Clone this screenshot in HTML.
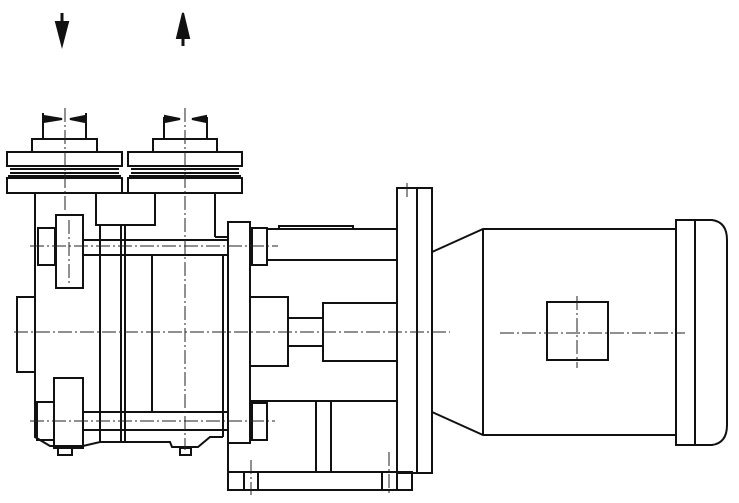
<!DOCTYPE html>
<html><head><meta charset="utf-8"><style>html,body{margin:0;padding:0;background:#fff}svg{display:block}</style></head>
<body>
<svg width="739" height="503" viewBox="0 0 739 503" xmlns="http://www.w3.org/2000/svg">
<g fill="none" stroke="#111" stroke-width="2">
<line x1="62" y1="13" x2="62" y2="24" stroke-width="3"/>
<polygon points="56,22 68,22 62,45" fill="#111"/>
<polygon points="177,38 189,38 183,13" fill="#111"/>
<line x1="183" y1="37" x2="183" y2="46" stroke-width="3"/>
<line x1="43" y1="113" x2="43" y2="139"/><line x1="86" y1="113" x2="86" y2="139"/>
<polygon points="44,116 62,119 44,122" fill="#111"/><polygon points="85,116 70,119 85,122" fill="#111"/>
<line x1="164" y1="117" x2="164" y2="139"/><line x1="207" y1="117" x2="207" y2="139"/>
<polygon points="165,116 180,119 165,122" fill="#111"/><polygon points="206,116 192,119 206,122" fill="#111"/>
<rect x="32" y="139" width="65" height="13"/>
<rect x="7" y="152" width="115" height="14"/>
<line x1="10" y1="169" x2="119" y2="169"/><line x1="10" y1="173" x2="119" y2="173"/><line x1="8" y1="176" x2="121" y2="176"/>
<rect x="7" y="178" width="115" height="15"/>
<rect x="153" y="139" width="64" height="13"/>
<rect x="128" y="152" width="114" height="14"/>
<line x1="131" y1="169" x2="239" y2="169"/><line x1="131" y1="173" x2="239" y2="173"/><line x1="129" y1="176" x2="241" y2="176"/>
<rect x="128" y="178" width="114" height="15"/>
<polyline points="35,193 35,437 50,446 83,446 100,442 170,442 172,447 198,447 210,437 223,437"/>
<rect x="96" y="193" width="59" height="32"/>
<line x1="215" y1="193" x2="215" y2="237"/>
<line x1="215" y1="237" x2="228" y2="237"/>
<rect x="17" y="297" width="18" height="75"/>
<rect x="56" y="215" width="27" height="73"/>
<rect x="38" y="228" width="17" height="37"/>
<line x1="83" y1="240" x2="228" y2="240"/><line x1="83" y1="255" x2="228" y2="255"/>
<rect x="54" y="378" width="29" height="70"/>
<rect x="37" y="402" width="17" height="38"/>
<line x1="83" y1="412" x2="228" y2="412"/><line x1="83" y1="430" x2="228" y2="430"/>
<line x1="100" y1="225" x2="100" y2="442"/><line x1="121" y1="225" x2="121" y2="442"/>
<line x1="125" y1="225" x2="125" y2="442"/><line x1="152" y1="255" x2="152" y2="412"/>
<line x1="223" y1="255" x2="223" y2="437"/>
<rect x="58" y="448" width="14" height="7"/><rect x="180" y="448" width="11" height="7"/>
<rect x="228" y="222" width="22" height="221"/>
<rect x="252" y="228" width="15" height="37"/>
<rect x="252" y="403" width="15" height="37"/>
<rect x="267" y="229" width="130" height="31"/>
<rect x="279" y="226" width="74" height="3"/>
<rect x="250" y="297" width="38" height="69"/>
<rect x="288" y="318" width="35" height="28"/>
<rect x="323" y="303" width="74" height="58"/>
<line x1="250" y1="401" x2="397" y2="401"/>
<polyline points="228,443 228,472 316,472 316,401"/>
<polyline points="331,401 331,472 397,472"/>
<rect x="228" y="472" width="184" height="18"/>
<line x1="244" y1="472" x2="244" y2="490"/><line x1="258" y1="472" x2="258" y2="490"/>
<line x1="382" y1="472" x2="382" y2="490"/><line x1="397" y1="472" x2="397" y2="490"/>
<rect x="397" y="188" width="35" height="285"/>
<line x1="417" y1="188" x2="417" y2="473"/>
<polyline points="432,252 483,229 676,229"/>
<polyline points="432,412 483,435 676,435"/>
<line x1="483" y1="229" x2="483" y2="435"/>
<rect x="676" y="220" width="19" height="225"/>
<path d="M695,220 L712,220 Q727,222 727,240 L727,425 Q727,443 712,445 L695,445"/>
<rect x="547" y="302" width="61" height="58"/>
</g>
<g stroke="#222" stroke-width="1" stroke-dasharray="14,3,2,3" fill="none">
<line x1="65" y1="108" x2="65" y2="210"/>
<line x1="185" y1="108" x2="185" y2="450"/>
<line x1="14" y1="332" x2="450" y2="332"/>
<line x1="500" y1="333" x2="685" y2="333"/>
<line x1="577" y1="296" x2="577" y2="368"/>
<line x1="30" y1="246" x2="278" y2="246"/>
<line x1="30" y1="421" x2="275" y2="421"/>
<line x1="69" y1="220" x2="69" y2="285"/>
<line x1="251" y1="460" x2="251" y2="495"/>
<line x1="389" y1="452" x2="389" y2="495"/>
<line x1="407" y1="183" x2="407" y2="200"/>
</g>
</svg>
</body></html>
